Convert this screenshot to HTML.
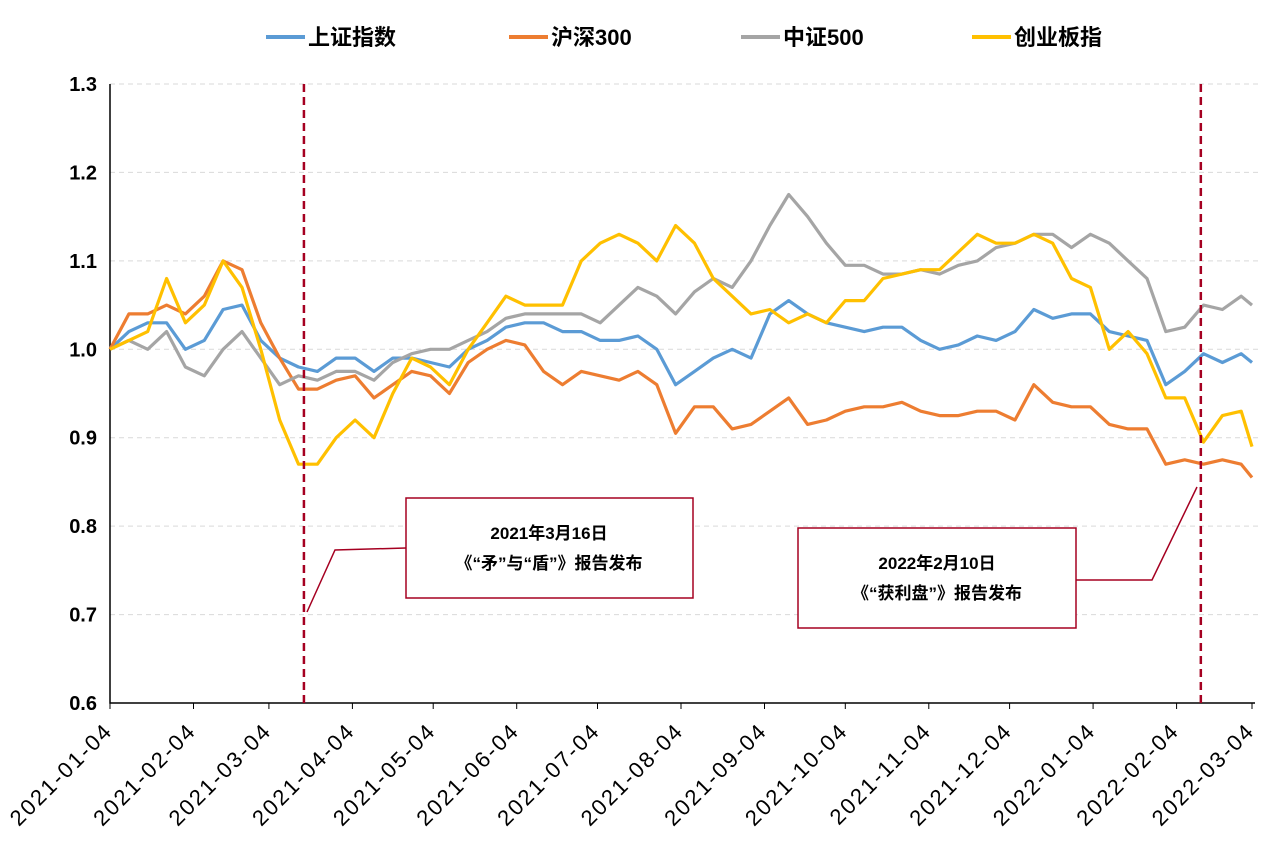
<!DOCTYPE html>
<html><head><meta charset="utf-8"><style>
body{margin:0;background:#fff;}
svg text{font-family:"Liberation Sans","Noto Sans CJK SC",sans-serif;}
</style></head><body>
<svg id="chart" width="1275" height="843" viewBox="0 0 1275 843" xmlns="http://www.w3.org/2000/svg"></svg>
<script>
const days=[0,7,14,21,28,35,42,49,56,63,70,77,84,91,98,105,112,119,126,133,140,147,154,161,168,175,182,189,196,203,210,217,224,231,238,245,252,259,266,273,280,287,294,301,308,315,322,329,336,343,350,357,364,371,378,385,392,399,406,413,420,424];
const shIndex=[1.0,1.02,1.03,1.03,1.0,1.01,1.045,1.05,1.01,0.99,0.98,0.975,0.99,0.99,0.975,0.99,0.99,0.985,0.98,1.0,1.01,1.025,1.03,1.03,1.02,1.02,1.01,1.01,1.015,1.0,0.96,0.975,0.99,1.0,0.99,1.04,1.055,1.04,1.03,1.025,1.02,1.025,1.025,1.01,1.0,1.005,1.015,1.01,1.02,1.045,1.035,1.04,1.04,1.02,1.015,1.01,0.96,0.975,0.995,0.985,0.995,0.985];
const hs300=[1.0,1.04,1.04,1.05,1.04,1.06,1.1,1.09,1.03,0.99,0.955,0.955,0.965,0.97,0.945,0.96,0.975,0.97,0.95,0.985,1.0,1.01,1.005,0.975,0.96,0.975,0.97,0.965,0.975,0.96,0.905,0.935,0.935,0.91,0.915,0.93,0.945,0.915,0.92,0.93,0.935,0.935,0.94,0.93,0.925,0.925,0.93,0.93,0.92,0.96,0.94,0.935,0.935,0.915,0.91,0.91,0.87,0.875,0.87,0.875,0.87,0.855];
const zz500=[1.0,1.01,1.0,1.02,0.98,0.97,1.0,1.02,0.99,0.96,0.97,0.965,0.975,0.975,0.965,0.985,0.995,1.0,1.0,1.01,1.02,1.035,1.04,1.04,1.04,1.04,1.03,1.05,1.07,1.06,1.04,1.065,1.08,1.07,1.1,1.14,1.175,1.15,1.12,1.095,1.095,1.085,1.085,1.09,1.085,1.095,1.1,1.115,1.12,1.13,1.13,1.115,1.13,1.12,1.1,1.08,1.02,1.025,1.05,1.045,1.06,1.05];
const cyb=[1.0,1.01,1.02,1.08,1.03,1.05,1.1,1.07,1.0,0.92,0.87,0.87,0.9,0.92,0.9,0.95,0.99,0.98,0.96,1.0,1.03,1.06,1.05,1.05,1.05,1.1,1.12,1.13,1.12,1.1,1.14,1.12,1.08,1.06,1.04,1.045,1.03,1.04,1.03,1.055,1.055,1.08,1.085,1.09,1.09,1.11,1.13,1.12,1.12,1.13,1.12,1.08,1.07,1.0,1.02,0.995,0.945,0.945,0.895,0.925,0.93,0.89];
const seriesNames=["上证指数","沪深300","中证500","创业板指"];
const seriesColors=["#5B9BD5","#ED7D31","#A5A5A5","#FFC000"];
const yTicks=[0.6,0.7,0.8,0.9,1.0,1.1,1.2,1.3];
const xTickLabels=["2021-01-04","2021-02-04","2021-03-04","2021-04-04","2021-05-04","2021-06-04","2021-07-04","2021-08-04","2021-09-04","2021-10-04","2021-11-04","2021-12-04","2022-01-04","2022-02-04","2022-03-04"];
const xTickDays=[0,31,59,90,120,151,181,212,243,273,304,334,365,396,424];
const eventDays=[72,405];

const svg=document.getElementById('chart');
const NS='http://www.w3.org/2000/svg';
const L=110,R=1252,T=84,B=703;
const x=d=>L+d*(R-L)/424;
const y=v=>B-(v-0.6)*(B-T)/0.7;
function mk(t,a,p){const e=document.createElementNS(NS,t);for(const k in a)e.setAttribute(k,a[k]);(p||svg).appendChild(e);return e;}

yTicks.forEach(v=>{
 if(v>0.6){const g=mk('line',{x1:L,x2:1258,y1:y(v),y2:y(v),stroke:'#d9d9d9','stroke-dasharray':'5,4'});
 
 }
 const t=mk('text',{x:97,y:y(v)+7,'text-anchor':'end','font-size':20,'font-weight':'bold',fill:'#000'});t.textContent=v.toFixed(1);
 
 
});
xTickLabels.forEach((s,i)=>{
 const xx=x(xTickDays[i]);
 const tk=mk('line',{x1:xx,x2:xx,y1:B,y2:B+6,stroke:'#000'});
 
 
 const tx=xx+4,ty=B+29;
 const t=mk('text',{x:tx,y:ty,'text-anchor':'end','font-size':22,'letter-spacing':2.2,fill:'#000',transform:`rotate(-45 ${tx} ${ty})`});t.textContent=s;
 
 
});
const ax=mk('path',{d:`M${L} ${T}V${B}H${R+3}`,stroke:'#000','stroke-width':1.5,fill:'none'});



[shIndex,hs300,zz500,cyb].forEach((arr,si)=>{
 const d=arr.map((v,i)=>(i?'L':'M')+x(days[i]).toFixed(1)+' '+y(v).toFixed(1)).join('');
 const p=mk('path',{d:d,stroke:seriesColors[si],'stroke-width':3.2,fill:'none','stroke-linejoin':'round'});
 
 
});
eventDays.forEach(dd=>{
 const l=mk('line',{x1:x(dd),x2:x(dd),y1:T,y2:B,stroke:'#A50021','stroke-width':2.5,'stroke-dasharray':'8,5'});
 
 
});
const legX=[266,509,741,972];
seriesNames.forEach((n,i)=>{
 const g=mk('g',{});
 
 
 mk('line',{x1:legX[i],x2:legX[i]+39,y1:37,y2:37,stroke:seriesColors[i],'stroke-width':4},g);
 const t=mk('text',{x:legX[i]+42,y:45,'font-size':22,'font-weight':'bold',fill:'#000'},g);t.textContent=n;
});
</script>
<svg style="position:absolute;left:0;top:0" width="1275" height="843">
 <polyline points="406,548 335,550 307,612" fill="none" stroke="#A50021" stroke-width="1.5"/>
 <polyline points="1076,580 1152,580 1197,487" fill="none" stroke="#A50021" stroke-width="1.5"/>
 <g>
  <rect x="406" y="498" width="287" height="100" fill="#fff" stroke="#A50021" stroke-width="1.5"/>
  <text x="549" y="539" text-anchor="middle" font-size="17" font-weight="bold" font-family="Liberation Sans,Noto Sans CJK SC,sans-serif">2021年3月16日</text>
  <text x="549" y="569" text-anchor="middle" font-size="17" font-weight="bold" font-family="Liberation Sans,Noto Sans CJK SC,sans-serif">《“矛”与“盾”》报告发布</text>
 </g>
 <g>
  <rect x="798" y="528" width="278" height="100" fill="#fff" stroke="#A50021" stroke-width="1.5"/>
  <text x="937" y="569" text-anchor="middle" font-size="17" font-weight="bold" font-family="Liberation Sans,Noto Sans CJK SC,sans-serif">2022年2月10日</text>
  <text x="937" y="599" text-anchor="middle" font-size="17" font-weight="bold" font-family="Liberation Sans,Noto Sans CJK SC,sans-serif">《“获利盘”》报告发布</text>
 </g>
</svg>
</body></html>
